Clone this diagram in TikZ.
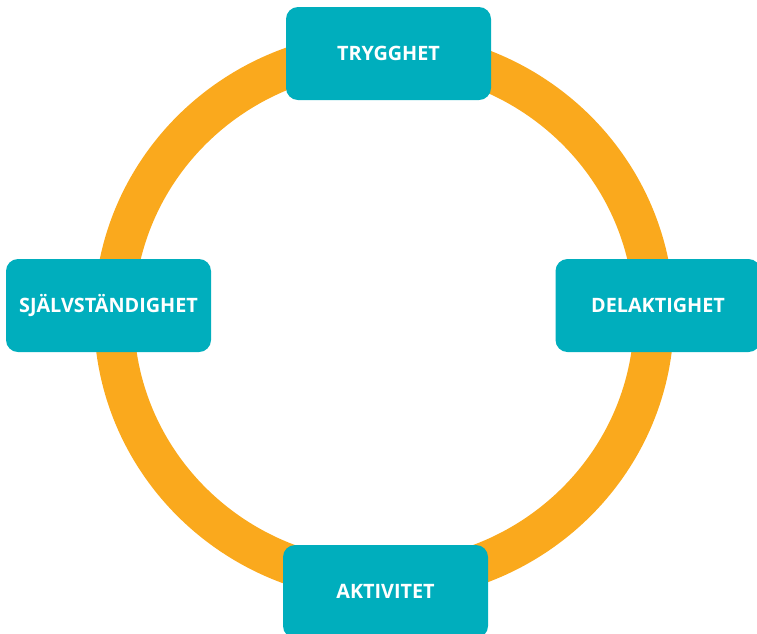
\documentclass[tikz,border=0pt]{standalone}
\usepackage{fontspec}
\setmainfont{Open Sans}
\usepackage{xcolor}
\usepackage{tikz}

\definecolor{ringorange}{RGB}{250,169,29}
\definecolor{boxteal}{RGB}{0,174,189}

\begin{document}
\begin{tikzpicture}[x=1pt, y=-1pt,
    valuebox/.style={fill=boxteal, draw=none, rounded corners=12pt,
        minimum width=205pt, minimum height=93pt, inner sep=0pt,
        text=white, font=\fontsize{19.8}{22}\selectfont\bfseries}]
            \useasboundingbox (0,0) rectangle (757,633);
            \clip (0,0) rectangle (757,633);
            
            % The ring behind the boxes
            \draw[ringorange, line width=40pt] (384,316) ellipse [x radius=270, y radius=265];
            
            % The four values round the ring
            \node[valuebox] (trygghet) at (388.5,53.5) {TRYGGHET};
            \node[valuebox] (sjalv) at (108.5,305.5) {SJÄLVSTÄNDIGHET};
            \node[valuebox] (delaktighet) at (658,305.5) {DELAKTIGHET};
            \node[valuebox] (aktivitet) at (385.5,591.5) {AKTIVITET};
        \end{tikzpicture}
\end{document}
